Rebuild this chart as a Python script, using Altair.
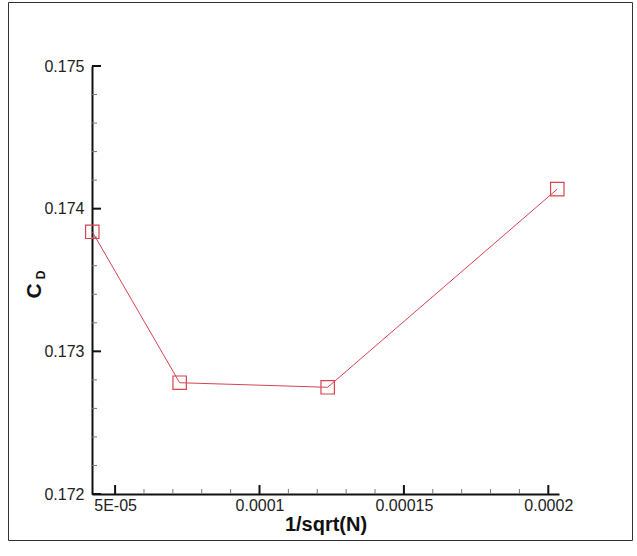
import altair as alt
import pandas as pd

# Drag coefficient against grid-size measure
inv_sqrt_n = [4.21e-05, 7.235e-05, 0.0001236, 0.0002031]
cd = [0.173838, 0.17278, 0.172748, 0.174137]

x_major = [5e-05, 0.0001, 0.00015, 0.0002]
x_major_labels = ["5E-05", "0.0001", "0.00015", "0.0002"]
x_minor = [6e-05, 7e-05, 8e-05, 9e-05, 0.00011, 0.00012, 0.00013, 0.00014,
           0.00016, 0.00017, 0.00018, 0.00019]
y_major = [0.172, 0.173, 0.174, 0.175]
y_minor = [0.1722, 0.1724, 0.1726, 0.1728, 0.1732, 0.1734, 0.1736, 0.1738,
           0.1742, 0.1744, 0.1746, 0.1748]

X_DOMAIN = [4.2e-05, 2.037e-04]
Y_DOMAIN = [0.172, 0.175]

W, H = 467, 428
PAD_L, PAD_T = 92, 66
FONT = "Liberation Sans"
RED = "#d8434e"

label_expr = " : ".join(
    f"datum.value == {v} ? '{t}'" for v, t in zip(x_major, x_major_labels)
) + " : ''"

xs = alt.Scale(domain=X_DOMAIN, nice=False, zero=False)
ys = alt.Scale(domain=Y_DOMAIN, nice=False, zero=False)

df = pd.DataFrame({"x": inv_sqrt_n, "y": cd})

x_axis = alt.Axis(values=x_major, labelExpr=label_expr, title="1/sqrt(N)",
                  ticks=False, grid=False, domainColor="#111", domainWidth=2,
                  labelFont=FONT, labelFontSize=16, labelColor="#222",
                  labelPadding=3, labelFlush=False,
                  titleFont=FONT, titleFontSize=20, titleFontWeight="bold",
                  titleColor="#111", titlePadding=1)
y_axis = alt.Axis(values=y_major, format=".3f", title=None,
                  ticks=False, grid=False, domainColor="#111", domainWidth=2,
                  labelFont=FONT, labelFontSize=16, labelColor="#222",
                  labelPadding=8, labelFlush=False)

line = alt.Chart(df).mark_line(color=RED, strokeWidth=1, clip=False).encode(
    x=alt.X("x:Q", scale=xs, axis=x_axis),
    y=alt.Y("y:Q", scale=ys, axis=y_axis),
)
pts = alt.Chart(df).mark_point(shape="square", filled=False, color=RED,
                               size=180, strokeWidth=1.2, opacity=1,
                               clip=False).encode(
    x=alt.X("x:Q", scale=xs), y=alt.Y("y:Q", scale=ys))

# inward-pointing tick marks
xmaj = alt.Chart(pd.DataFrame({"v": x_major})).mark_rule(
    color="#111", strokeWidth=2).encode(
    x=alt.X("v:Q", scale=xs), y=alt.value(H), y2=alt.value(H - 9))
xmin = alt.Chart(pd.DataFrame({"v": x_minor})).mark_rule(
    color="#777", strokeWidth=1).encode(
    x=alt.X("v:Q", scale=xs), y=alt.value(H), y2=alt.value(H - 5))
ymaj = alt.Chart(pd.DataFrame({"v": y_major})).mark_rule(
    color="#111", strokeWidth=2).encode(
    y=alt.Y("v:Q", scale=ys), x=alt.value(0), x2=alt.value(9))
ymin = alt.Chart(pd.DataFrame({"v": y_minor})).mark_rule(
    color="#777", strokeWidth=1).encode(
    y=alt.Y("v:Q", scale=ys), x=alt.value(0), x2=alt.value(5))

# y title: C with subscript D, rotated
ytitle = pd.DataFrame({"t": ["C"]})
c_txt = alt.Chart(ytitle).mark_text(
    text="C", angle=270, font=FONT, fontSize=21, fontWeight="bold",
    color="#111", align="center", baseline="middle").encode(
    x=alt.value(35 - PAD_L), y=alt.value(291 - PAD_T))
d_txt = alt.Chart(ytitle).mark_text(
    text="D", angle=270, font=FONT, fontSize=12, fontWeight="bold",
    color="#111", align="center", baseline="middle").encode(
    x=alt.value(41 - PAD_L), y=alt.value(275 - PAD_T))

# outer frame
frame = alt.Chart(pd.DataFrame({"a": [0]})).mark_rect(
    filled=False, stroke="#333", strokeWidth=1, clip=False).encode(
    x=alt.value(8.5 - PAD_L), x2=alt.value(632.5 - PAD_L),
    y=alt.value(2.5 - PAD_T), y2=alt.value(540.5 - PAD_T))

chart = alt.layer(frame, xmin, xmaj, ymin, ymaj, line, pts, c_txt, d_txt).properties(
    width=W, height=H,
    autosize=alt.AutoSizeParams(type="none"),
    padding={"left": PAD_L, "top": PAD_T, "right": 637 - PAD_L - W,
             "bottom": 556 - PAD_T - H},
    background="white",
).configure_view(stroke=None)

chart.save("out.html", embed_options={"renderer": "svg", "actions": False})
